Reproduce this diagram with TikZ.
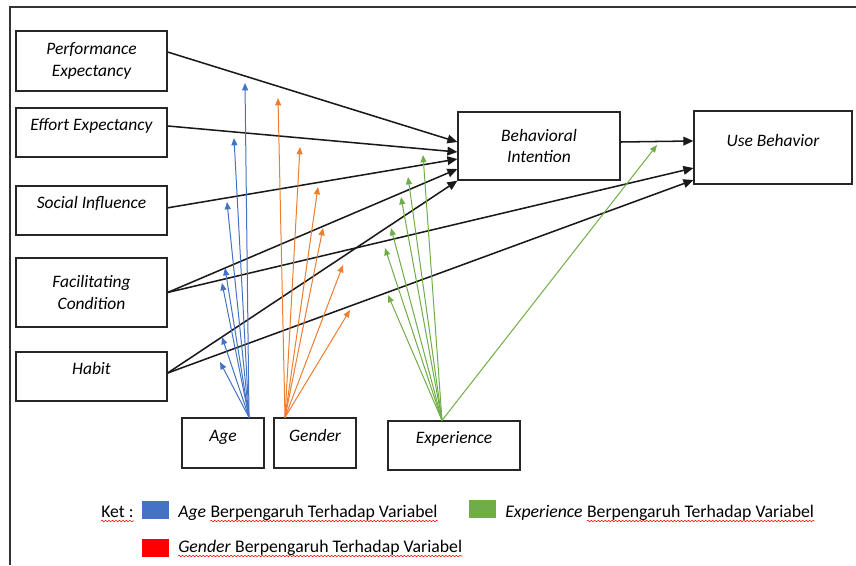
\documentclass[tikz,border=0pt]{standalone}
\usepackage{fontspec}
\setmainfont{Carlito}
\usetikzlibrary{arrows.meta,decorations.pathmorphing,positioning}
\definecolor{agec}{HTML}{4472C4}
\definecolor{genc}{HTML}{ED7D31}
\definecolor{expc}{HTML}{70AD47}

\begin{document}
\begin{tikzpicture}[x=0.75pt,y=-0.75pt,
  every node/.style={font=\fontsize{13.3}{16}\selectfont},
  box/.style={draw=black!85,line width=0.9pt,rectangle,align=center,inner sep=0pt,font=\fontsize{13.1}{16}\selectfont\itshape},
  onebox/.style={box,text height=10pt,text depth=12.5pt},
  blk/.style={-{Triangle[length=7.5pt,width=6.5pt]},line width=1.15pt,black!90},
  mod/.style={-{Triangle[length=5.5pt,width=4.5pt]},line width=0.75pt,#1},
  keytxt/.style={inner sep=0pt},
  wavy/.style={red,line width=0.4pt,decorate,decoration={snake,amplitude=0.55pt,segment length=2.6pt}}]
\useasboundingbox (0,0) rectangle (856,565);
\draw[line width=1.5pt,black!80] (10,565) -- (10,6.5) -- (856,6.5);

\foreach \n/\y/\h/\s/\lab in {pe/61/45/box/{Performance\\Expectancy},ee/132.5/36.75/onebox/{Effort Expectancy},si/210.5/36.75/onebox/{Social Influence},fc/292.5/51.75/box/{Facilitating\\Condition},hb/376.5/36.75/onebox/{Habit}} {
  \node[\s,minimum width=113.25pt,minimum height=\h pt] (\n) at (91.5,\y) {\lab};
}
\node[onebox,minimum width=61.5pt,minimum height=37.5pt] (age) at (223,443) {Age};
\node[onebox,minimum width=61.5pt,minimum height=37.5pt] (gen) at (315,443) {Gender};
\node[onebox,minimum width=99pt,minimum height=36.75pt] (exp) at (454,445.5) {Experience};
\node[box,minimum width=121.5pt,minimum height=51pt] (bi) at (539,146) {Behavioral\\Intention};
\node[onebox,minimum width=118.5pt,minimum height=54.75pt,text depth=11.5pt] (ub) at (773,147.5) {Use Behavior};

\draw[blk] ([yshift=6.75pt]pe.east) -- ([yshift=3pt]bi.west);
\draw[blk] ([yshift=4.9pt]ee.east) -- ([yshift=-4.5pt]bi.west);
\draw[blk] ([yshift=2pt]si.east) -- ([yshift=-9.75pt]bi.west);
\draw[blk] (fc.east) -- ([yshift=-17.25pt]bi.west);
\draw[blk] ([yshift=2.6pt]hb.east) -- ([yshift=-26pt]bi.west);
\draw[blk] (fc.east) -- ([yshift=-15.4pt]ub.west);
\draw[blk] ([yshift=2.6pt]hb.east) -- ([yshift=-24.4pt]ub.west);
\draw[blk] ([yshift=3pt]bi.east) -- ([yshift=4.9pt]ub.west);

\coordinate (agesrc) at ([xshift=19.5pt]age.north);
\coordinate (gensrc) at ([xshift=-22.5pt]gen.north);
\coordinate (expsrc) at ([xshift=-9pt]exp.north);
\foreach \i/\x/\y in {1/245/83,2/234/138,3/227/202,4/225/268,5/222/283,6/222/337,7/220/362} {
  \coordinate (a\i) at (\x,\y);
  \draw[mod=agec] (agesrc) -- (a\i);
}
\foreach \i/\x/\y in {1/278/98,2/300/147,3/318/187,4/323/228,5/343/265,6/350/310} {
  \coordinate (g\i) at (\x,\y);
  \draw[mod=genc] (gensrc) -- (g\i);
}
\foreach \i/\x/\y in {1/423/155,2/408/177,3/401/197,4/391/228,5/385/248,6/388/295,7/657/145} {
  \coordinate (e\i) at (\x,\y);
  \draw[mod=expc] (expsrc) -- (e\i);
}

\node[keytxt,anchor=base west] (ket) at (101,517) {Ket :};
\foreach \n/\c/\x/\y in {kage/agec/155.5/509.5,kgen/red/155.5/547.5,kexp/expc/482.5/508.5} {
  \node[fill=\c,minimum width=20.25pt,minimum height=13.5pt,inner sep=0pt] (\n) at (\x,\y) {};
}
\node[keytxt,anchor=base west,font=\fontsize{13.3}{16}\selectfont\itshape] (tage) at (178,517) {Age};
\node[keytxt,base right=2.9pt of tage] (bage) {Berpengaruh Terhadap Variabel};
\node[keytxt,anchor=base west,font=\fontsize{13.3}{16}\selectfont\itshape] (texp) at (505,517) {Experience};
\node[keytxt,base right=2.9pt of texp] (bexp) {Berpengaruh Terhadap Variabel};
\node[keytxt,anchor=base west,font=\fontsize{13.3}{16}\selectfont\itshape] (tgen) at (178,552) {Gender};
\node[keytxt,base right=2.9pt of tgen] (bgen) {Berpengaruh Terhadap Variabel};
\draw[wavy] ([yshift=-3pt]ket.base west) -- ([yshift=-3pt]ket.base east);
\draw[wavy] ([yshift=-3pt]bage.base west) -- ([yshift=-3pt]bage.base east);
\draw[wavy] ([yshift=-3pt]bexp.base west) -- ([yshift=-3pt]bexp.base east);
\draw[wavy] ([yshift=-3pt]tgen.base west) -- ([yshift=-3pt]bgen.base east);
\end{tikzpicture}
\end{document}
